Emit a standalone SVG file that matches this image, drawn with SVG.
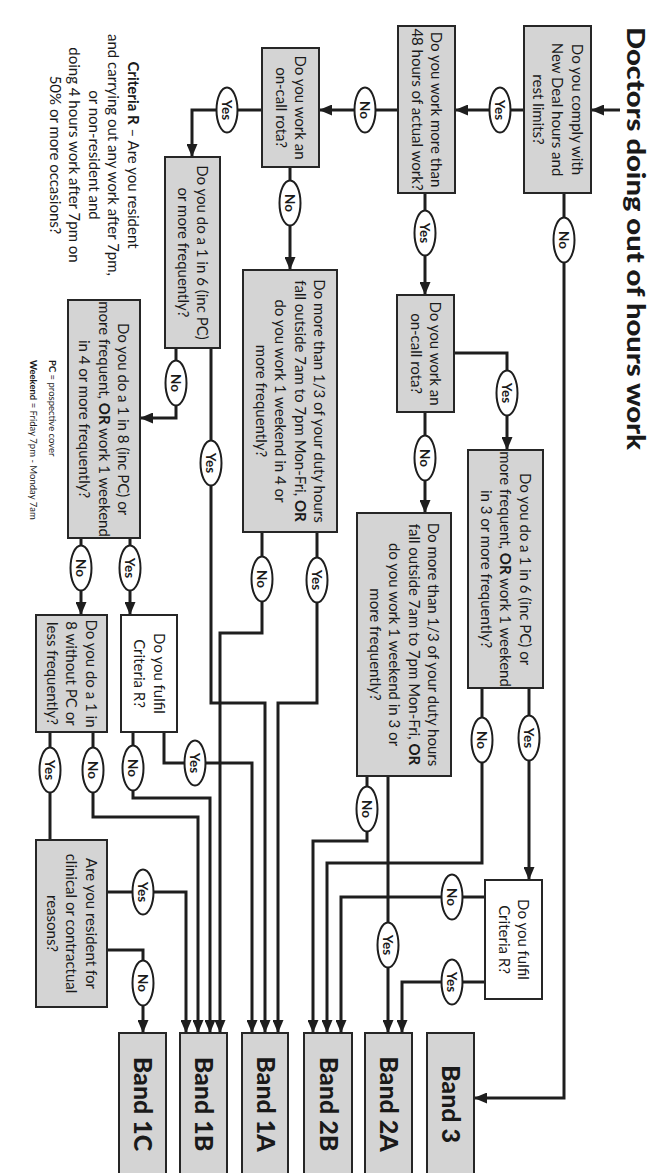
<svg xmlns="http://www.w3.org/2000/svg" width="650" height="1173" viewBox="0 0 650 1173">
<style>
.box{fill:#d4d4d4;stroke:#262626;stroke-width:2}
.wbox{fill:#ffffff;stroke:#262626;stroke-width:2}
.c{fill:none;stroke:#1e1e1e;stroke-width:3}
.a{marker-end:url(#ah)}
.el{fill:#ffffff;stroke:#1e1e1e;stroke-width:2}
text{font-family:Lato,"Liberation Sans",sans-serif;fill:#1a1a1a}
.t{font-size:15px}
.lb{font-size:13.5px;font-weight:bold}
.band{font-size:25px;font-weight:900}
.b{font-weight:bold}
</style>
<defs>
<marker id="ah" markerUnits="userSpaceOnUse" markerWidth="13" markerHeight="11" refX="13" refY="5.5" orient="auto">
<path d="M0,0 L13,5.5 L0,11 z" fill="#1e1e1e"/>
</marker>
</defs>
<rect width="650" height="1173" fill="#ffffff"/>

<g id="title">
<text transform="translate(627,27) rotate(90)" font-size="24" font-weight="900" textLength="423" lengthAdjust="spacingAndGlyphs">Doctors doing out of hours work</text>
</g>

<g id="connectors">
<path class="c a" d="M620,110 H591"/>
<path class="c a" d="M524,110 H455"/>
<path class="c a" d="M398,110 H319"/>
<path class="c a" d="M262,110 H192 V157"/>
<path class="c a" d="M564,193 V1098 H474"/>
<path class="c a" d="M425,193 V295"/>
<path class="c a" d="M290,167 V270"/>
<path class="c a" d="M454,353 H507 V450"/>
<path class="c a" d="M425,412 V513"/>
<path class="c a" d="M176,348 V418 H140"/>
<path class="c a" d="M211,348 V703 H265 V1033"/>
<path class="c a" d="M262,532 V633 H220 V1033"/>
<path class="c a" d="M317,532 V703 H278 V1033"/>
<path class="c a" d="M81,538 V615"/>
<path class="c a" d="M130,538 V615"/>
<path class="c a" d="M529,688 V880"/>
<path class="c a" d="M482,688 V863 H327 V1033"/>
<path class="c a" d="M367,776 V841 H313 V1033"/>
<path class="c a" d="M388,776 V1033"/>
<path class="c a" d="M485,897 H341 V1033"/>
<path class="c a" d="M485,982 H402 V1033"/>
<path class="c" d="M50,732 V840"/>
<path class="c a" d="M93,732 V817 H198 V1033"/>
<path class="c a" d="M133,732 V798 H210 V1033"/>
<path class="c a" d="M164,732 V763 H252 V1033"/>
<path class="c a" d="M107,892 H186 V1033"/>
<path class="c a" d="M107,950 H143 V1033"/>
</g>

<g id="labels">
<g><ellipse class="el" cx="500" cy="110" rx="10.5" ry="22.5"/><text class="lb" transform="translate(500,110) rotate(90)" text-anchor="middle" y="4.8">Yes</text></g>
<g><ellipse class="el" cx="365" cy="110" rx="10.5" ry="22.5"/><text class="lb" transform="translate(365,110) rotate(90)" text-anchor="middle" y="4.8">No</text></g>
<g><ellipse class="el" cx="227" cy="110" rx="10.5" ry="22.5"/><text class="lb" transform="translate(227,110) rotate(90)" text-anchor="middle" y="4.8">Yes</text></g>
<g><ellipse class="el" cx="564" cy="240" rx="10.5" ry="22.5"/><text class="lb" transform="translate(564,240) rotate(90)" text-anchor="middle" y="4.8">No</text></g>
<g><ellipse class="el" cx="425" cy="233" rx="10.5" ry="22.5"/><text class="lb" transform="translate(425,233) rotate(90)" text-anchor="middle" y="4.8">Yes</text></g>
<g><ellipse class="el" cx="290" cy="203" rx="10.5" ry="22.5"/><text class="lb" transform="translate(290,203) rotate(90)" text-anchor="middle" y="4.8">No</text></g>
<g><ellipse class="el" cx="507" cy="393" rx="10.5" ry="22.5"/><text class="lb" transform="translate(507,393) rotate(90)" text-anchor="middle" y="4.8">Yes</text></g>
<g><ellipse class="el" cx="425" cy="458" rx="10.5" ry="22.5"/><text class="lb" transform="translate(425,458) rotate(90)" text-anchor="middle" y="4.8">No</text></g>
<g><ellipse class="el" cx="176" cy="383" rx="10.5" ry="22.5"/><text class="lb" transform="translate(176,383) rotate(90)" text-anchor="middle" y="4.8">No</text></g>
<g><ellipse class="el" cx="211" cy="463" rx="10.5" ry="22.5"/><text class="lb" transform="translate(211,463) rotate(90)" text-anchor="middle" y="4.8">Yes</text></g>
<g><ellipse class="el" cx="262" cy="579" rx="10.5" ry="22.5"/><text class="lb" transform="translate(262,579) rotate(90)" text-anchor="middle" y="4.8">No</text></g>
<g><ellipse class="el" cx="317" cy="580" rx="10.5" ry="22.5"/><text class="lb" transform="translate(317,580) rotate(90)" text-anchor="middle" y="4.8">Yes</text></g>
<g><ellipse class="el" cx="81" cy="568" rx="10.5" ry="22.5"/><text class="lb" transform="translate(81,568) rotate(90)" text-anchor="middle" y="4.8">No</text></g>
<g><ellipse class="el" cx="130" cy="568" rx="10.5" ry="22.5"/><text class="lb" transform="translate(130,568) rotate(90)" text-anchor="middle" y="4.8">Yes</text></g>
<g><ellipse class="el" cx="529" cy="738" rx="10.5" ry="22.5"/><text class="lb" transform="translate(529,738) rotate(90)" text-anchor="middle" y="4.8">Yes</text></g>
<g><ellipse class="el" cx="482" cy="740" rx="10.5" ry="22.5"/><text class="lb" transform="translate(482,740) rotate(90)" text-anchor="middle" y="4.8">No</text></g>
<g><ellipse class="el" cx="367" cy="809" rx="10.5" ry="22.5"/><text class="lb" transform="translate(367,809) rotate(90)" text-anchor="middle" y="4.8">No</text></g>
<g><ellipse class="el" cx="388" cy="945" rx="10.5" ry="22.5"/><text class="lb" transform="translate(388,945) rotate(90)" text-anchor="middle" y="4.8">Yes</text></g>
<g><ellipse class="el" cx="452" cy="897" rx="10.5" ry="22.5"/><text class="lb" transform="translate(452,897) rotate(90)" text-anchor="middle" y="4.8">No</text></g>
<g><ellipse class="el" cx="452" cy="982" rx="10.5" ry="22.5"/><text class="lb" transform="translate(452,982) rotate(90)" text-anchor="middle" y="4.8">Yes</text></g>
<g><ellipse class="el" cx="50" cy="770" rx="10.5" ry="22.5"/><text class="lb" transform="translate(50,770) rotate(90)" text-anchor="middle" y="4.8">Yes</text></g>
<g><ellipse class="el" cx="93" cy="770" rx="10.5" ry="22.5"/><text class="lb" transform="translate(93,770) rotate(90)" text-anchor="middle" y="4.8">No</text></g>
<g><ellipse class="el" cx="133" cy="768" rx="10.5" ry="22.5"/><text class="lb" transform="translate(133,768) rotate(90)" text-anchor="middle" y="4.8">No</text></g>
<g><ellipse class="el" cx="195" cy="763" rx="10.5" ry="22.5"/><text class="lb" transform="translate(195,763) rotate(90)" text-anchor="middle" y="4.8">Yes</text></g>
<g><ellipse class="el" cx="143" cy="892" rx="10.5" ry="22.5"/><text class="lb" transform="translate(143,892) rotate(90)" text-anchor="middle" y="4.8">Yes</text></g>
<g><ellipse class="el" cx="143" cy="983" rx="10.5" ry="22.5"/><text class="lb" transform="translate(143,983) rotate(90)" text-anchor="middle" y="4.8">No</text></g>
</g>

<g id="q1"><rect class="box" x="524" y="26" width="67" height="167"/>
<text class="t" transform="translate(557.5,109.5) rotate(90)" text-anchor="middle"><tspan x="0" y="-14.2">Do you comply with</tspan><tspan x="0" y="5.3">New Deal hours and</tspan><tspan x="0" y="24.8">rest limits?</tspan></text></g>

<g id="q2"><rect class="box" x="398" y="26" width="57" height="167"/>
<text class="t" transform="translate(426.5,109.5) rotate(90)" text-anchor="middle"><tspan x="0" y="-4.5">Do you work more than</tspan><tspan x="0" y="15">48 hours of actual work?</tspan></text></g>

<g id="q3"><rect class="box" x="262" y="48" width="57" height="119"/>
<text class="t" transform="translate(290.5,107.5) rotate(90)" text-anchor="middle"><tspan x="0" y="-4.5">Do you work an</tspan><tspan x="0" y="15">on-call rota?</tspan></text></g>

<g id="q4"><rect class="box" x="165" y="157" width="55" height="191"/>
<text class="t" transform="translate(192.5,252.5) rotate(90)" text-anchor="middle"><tspan x="0" y="-4.5">Do you do a 1 in 6 (inc PC)</tspan><tspan x="0" y="15">or more frequently?</tspan></text></g>

<g id="q5"><rect class="box" x="397" y="295" width="57" height="117"/>
<text class="t" transform="translate(425.5,353.5) rotate(90)" text-anchor="middle"><tspan x="0" y="-4.5">Do you work an</tspan><tspan x="0" y="15">on-call rota?</tspan></text></g>

<g id="q6"><rect class="box" x="468" y="450" width="75" height="238"/>
<text class="t" transform="translate(505.5,569) rotate(90)" text-anchor="middle"><tspan x="0" y="-14.2">Do you do a 1 in 6 (inc PC) or</tspan><tspan x="0" y="5.3">more frequent, <tspan class="b">OR</tspan> work 1 weekend</tspan><tspan x="0" y="24.8">in 3 or more frequently?</tspan></text></g>

<g id="q7"><rect class="box" x="243" y="270" width="94" height="262"/>
<text class="t" transform="translate(290,401) rotate(90)" text-anchor="middle"><tspan x="0" y="-24">Do more than 1/3 of your duty hours</tspan><tspan x="0" y="-4.5">fall outside 7am to 7pm Mon-Fri, <tspan class="b">OR</tspan></tspan><tspan x="0" y="15">do you work 1 weekend in 4 or</tspan><tspan x="0" y="34.5">more frequently?</tspan></text></g>

<g id="q8"><rect class="box" x="68" y="300" width="72" height="238"/>
<text class="t" transform="translate(104,419) rotate(90)" text-anchor="middle"><tspan x="0" y="-14.2">Do you do a 1 in 8 (inc PC) or</tspan><tspan x="0" y="5.3">more frequent, <tspan class="b">OR</tspan> work 1 weekend</tspan><tspan x="0" y="24.8">in 4 or more frequently?</tspan></text></g>

<g id="q9"><rect class="box" x="357" y="513" width="94" height="263"/>
<text class="t" transform="translate(404,644.5) rotate(90)" text-anchor="middle"><tspan x="0" y="-24">Do more than 1/3 of your duty hours</tspan><tspan x="0" y="-4.5">fall outside 7am to 7pm Mon-Fri, <tspan class="b">OR</tspan></tspan><tspan x="0" y="15">do you work 1 weekend in 3 or</tspan><tspan x="0" y="34.5">more frequently?</tspan></text></g>

<g id="q10"><rect class="box" x="36" y="615" width="71" height="117"/>
<text class="t" transform="translate(71.5,673.5) rotate(90)" text-anchor="middle"><tspan x="0" y="-14.2">Do you do a 1 in</tspan><tspan x="0" y="5.3">8 without PC or</tspan><tspan x="0" y="24.8">less frequently?</tspan></text></g>

<g id="q11"><rect class="wbox" x="121" y="615" width="56" height="117"/>
<text class="t" transform="translate(149,673.5) rotate(90)" text-anchor="middle"><tspan x="0" y="-4.5">Do you fulfil</tspan><tspan x="0" y="15">Criteria R?</tspan></text></g>

<g id="q12"><rect class="wbox" x="485" y="880" width="57" height="119"/>
<text class="t" transform="translate(513.5,939.5) rotate(90)" text-anchor="middle"><tspan x="0" y="-4.5">Do you fulfil</tspan><tspan x="0" y="15">Criteria R?</tspan></text></g>

<g id="q13"><rect class="box" x="36" y="840" width="71" height="167"/>
<text class="t" transform="translate(71.5,923.5) rotate(90)" text-anchor="middle"><tspan x="0" y="-14.2">Are you resident for</tspan><tspan x="0" y="5.3">clinical or contractual</tspan><tspan x="0" y="24.8">reasons?</tspan></text></g>

<g id="band1C"><rect class="box" x="119" y="1033" width="47" height="150"/>
<text class="band" transform="translate(143,1104) rotate(90)" text-anchor="middle" y="9">Band 1C</text></g>
<g id="band1B"><rect class="box" x="180" y="1033" width="47" height="150"/>
<text class="band" transform="translate(204,1104) rotate(90)" text-anchor="middle" y="9">Band 1B</text></g>
<g id="band1A"><rect class="box" x="242" y="1033" width="46" height="150"/>
<text class="band" transform="translate(265.5,1104) rotate(90)" text-anchor="middle" y="9">Band 1A</text></g>
<g id="band2B"><rect class="box" x="304" y="1033" width="48" height="150"/>
<text class="band" transform="translate(328.5,1104) rotate(90)" text-anchor="middle" y="9">Band 2B</text></g>
<g id="band2A"><rect class="box" x="365" y="1033" width="47" height="150"/>
<text class="band" transform="translate(389,1104) rotate(90)" text-anchor="middle" y="9">Band 2A</text></g>
<g id="band3"><rect class="box" x="427" y="1033" width="47" height="150"/>
<text class="band" transform="translate(451,1104) rotate(90)" text-anchor="middle" y="9">Band 3</text></g>

<g id="criteriaR">
<text class="t" transform="translate(94,155) rotate(90)" text-anchor="middle"><tspan x="0" y="-33.7"><tspan class="b">Criteria R</tspan> – Are you resident</tspan><tspan x="0" y="-14.2">and carrying out any work after 7pm,</tspan><tspan x="0" y="5.3">or non-resident and</tspan><tspan x="0" y="24.8">doing 4 hours work after 7pm on</tspan><tspan x="0" y="44.3">50% or more occasions?</tspan></text>
</g>

<g id="note">
<text font-size="9.5" transform="translate(42.5,360) rotate(90)"><tspan x="0" y="-6"><tspan class="b">PC</tspan> = prospective cover</tspan><tspan x="0" y="13"><tspan class="b">Weekend</tspan> = Friday 7pm - Monday 7am</tspan></text>
</g>
</svg>
